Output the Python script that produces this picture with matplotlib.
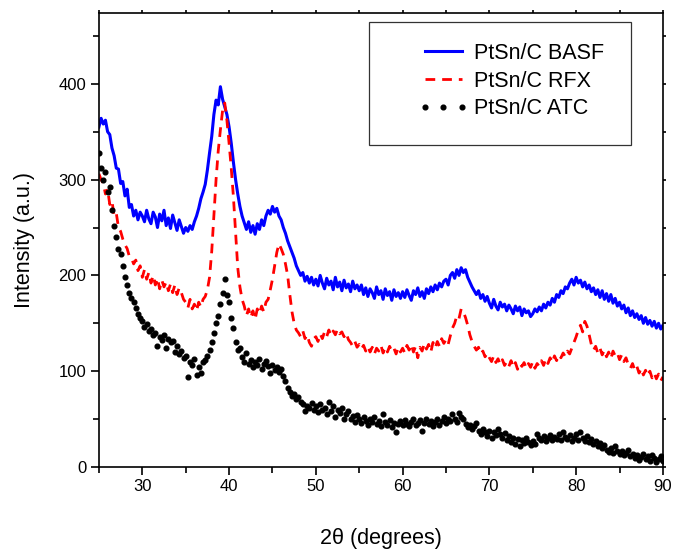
import numpy as np
import matplotlib
matplotlib.use("Agg")
import matplotlib.pyplot as plt
from matplotlib.patches import Rectangle

plt.rcParams['font.family'] = ['Liberation Sans', 'DejaVu Sans']

# 2theta grid, 0.25 degree steps from 25 to 90
theta = np.linspace(25, 90, 261)

# PtSn/C BASF (rows of 5 degrees)
basf = [
    355, 364, 358, 362, 350, 347, 333, 325, 312, 311, 296, 298, 283, 290, 271, 274, 262, 268, 258, 266,
    262, 256, 268, 259, 254, 266, 261, 250, 264, 257, 268, 252, 260, 249, 263, 255, 247, 258, 251, 244,
    250, 246, 252, 248, 256, 262, 270, 280, 287, 295, 310, 328, 345, 368, 383, 378, 397, 384, 376, 368,
    355, 338, 318, 300, 285, 272, 262, 255, 248, 256, 245, 252, 243, 254, 248, 258, 252, 262, 268, 264,
    272, 266, 270, 262, 258, 250, 244, 236, 230, 224, 218, 210, 205, 200, 203, 194, 199, 192, 198, 190,
    196, 189, 200, 192, 186, 197, 190, 194, 185, 198, 188, 193, 184, 195, 187, 191, 183, 194, 186, 190,
    184, 190, 180, 187, 178, 186, 182, 176, 188, 180, 184, 175, 186, 179, 183, 174, 185, 178, 182, 176,
    183, 177, 185, 179, 174, 184, 180, 187, 178, 183, 176, 186, 181, 188, 183, 190, 185, 192, 188, 194,
    196, 190, 200, 203, 197, 206, 200, 208, 203, 206, 198, 193, 188, 184, 180, 184, 176, 180, 173, 178,
    171, 166, 175, 168, 164, 172, 167, 170, 163, 169, 165, 160, 168, 163, 167, 158, 165, 161, 163, 157,
    160, 165, 162, 167, 163, 170, 166, 172, 169, 176, 172, 180, 177, 184, 181, 188, 186, 192, 196, 190,
    198, 192, 195, 188, 193, 186, 190, 183, 187, 180, 185, 177, 184, 175, 181, 173, 180, 171, 176, 168,
    172, 165, 169, 161, 166, 158, 163, 156, 160, 154, 158, 150, 156, 149, 153, 147, 152, 145, 150, 144,
    148,
]

# PtSn/C RFX
rfx = [
    306, 300, 296, 285, 290, 274, 278, 262, 265, 250, 246, 238, 232, 228, 220, 218, 212, 216, 205, 210,
    198, 206, 196, 203, 192, 200, 190, 197, 186, 195, 188, 193, 184, 191, 182, 190, 180, 187, 182, 175,
    172, 166, 175, 165, 170, 163, 172, 167, 175, 178, 185, 198, 225, 262, 300, 330, 352, 372, 380, 362,
    338, 312, 282, 245, 208, 188, 175, 168, 158, 165, 156, 163, 154, 165, 160, 168, 162, 172, 175, 185,
    196, 210, 224, 233, 228, 222, 212, 200, 180, 162, 150, 143, 140, 136, 142, 134, 138, 130, 126, 134,
    136, 131, 139, 134, 141, 136, 143, 137, 142, 138, 144, 139, 141, 136, 140, 133, 130, 126, 131, 125,
    128, 123, 127, 121, 126, 120, 125, 118, 124, 121, 127, 119, 125, 120, 126, 121, 124, 118, 125, 120,
    124, 119, 127, 122, 128, 120, 126, 114, 125, 121, 129, 123, 128, 120, 130, 124, 131, 126, 134, 129,
    133, 128, 137, 145, 150, 158, 155, 165, 162, 156, 148, 138, 131, 126, 122, 125, 118, 121, 115, 119,
    114, 110, 116, 109, 113, 107, 112, 106, 110, 105, 111, 104, 109, 102, 108, 105, 109, 103, 108, 104,
    110, 103, 108, 105, 111, 106, 113, 108, 114, 109, 116, 111, 117, 114, 119, 115, 121, 118, 124, 130,
    136, 143, 148, 141, 152, 147, 138, 128, 122, 126, 119, 124, 117, 122, 115, 120, 113, 121, 116, 119,
    112, 117, 110, 114, 107, 103, 108, 101, 105, 98, 103, 96, 101, 95, 100, 93, 98, 92, 97, 90,
    94,
]

# PtSn/C ATC
atc = [
    328, 312, 300, 308, 287, 292, 268, 252, 240, 228, 222, 210, 198, 190, 182, 176, 172, 166, 160, 156,
    152, 146, 149, 142, 144, 138, 140, 126, 136, 133, 138, 124, 134, 130, 132, 120, 126, 118, 121, 114,
    116, 94, 110, 106, 113, 96, 104, 98, 110, 112, 116, 122, 130, 140, 150, 158, 170, 182, 196, 180,
    172, 156, 145, 130, 122, 124, 115, 110, 119, 108, 112, 104, 110, 106, 113, 102, 108, 111, 105, 98,
    106, 101, 104, 99, 102, 95, 90, 82, 78, 74, 76, 71, 73, 68, 66, 58, 64, 62, 67, 60,
    64, 57, 66, 60, 62, 55, 68, 58, 64, 52, 60, 56, 62, 50, 55, 58, 50, 53, 47, 54,
    50, 46, 52, 48, 44, 50, 47, 52, 45, 48, 43, 55, 47, 44, 49, 42, 46, 36, 45, 48,
    44, 49, 45, 43, 47, 50, 44, 46, 49, 38, 46, 50, 45, 48, 43, 47, 50, 44, 48, 52,
    46, 50, 48, 55, 50, 47, 56, 52, 50, 45, 42, 44, 40, 43, 46, 38, 34, 40, 37, 32,
    38, 30, 36, 33, 40, 34, 30, 35, 28, 32, 26, 30, 24, 29, 22, 28, 25, 30, 26, 23,
    27, 24, 34, 30, 28, 32, 27, 30, 33, 28, 31, 29, 34, 28, 36, 31, 29, 33, 27, 30,
    34, 28, 36, 30, 27, 32, 26, 29, 24, 27, 22, 25, 20, 23, 18, 16, 20, 15, 22, 17,
    14, 17, 12, 15, 18, 11, 14, 9, 12, 7, 10, 14, 8, 11, 6, 12, 9, 5, 8, 11,
    6,
]

assert len(basf) == len(rfx) == len(atc) == len(theta)

fig = plt.figure(figsize=(6.73, 5.51), dpi=100)
ax = fig.add_axes([0.147, 0.1525, 0.838, 0.824])

l1, = ax.plot(theta, basf, color='#0000ff', lw=2.2, label='PtSn/C BASF')
l2, = ax.plot(theta, rfx, color='#ff0000', lw=2.0, dashes=(3.5, 2.5), label='PtSn/C RFX')
l3, = ax.plot(theta, atc, ls='none', marker='o', ms=3.4, color='k', label='PtSn/C ATC')

ax.set_xlim(25, 90)
ax.set_ylim(0, 474)
ax.set_xticks([30, 40, 50, 60, 70, 80, 90])
ax.set_xticks([25, 35, 45, 55, 65, 75, 85], minor=True)
ax.set_yticks([0, 100, 200, 300, 400])
ax.set_yticks([50, 150, 250, 350, 450], minor=True)
ax.tick_params(axis='both', which='major', direction='out', length=6, width=1.2,
               labelsize=12, pad=3)
ax.tick_params(axis='both', which='minor', direction='out', length=4, width=1.2)
ax.tick_params(which='both', top=True, right=True)
# tiny ticks on the top and right spines
for t in ax.xaxis.get_major_ticks() + ax.xaxis.get_minor_ticks():
    t.tick2line.set_markersize(2)
for t in ax.yaxis.get_major_ticks() + ax.yaxis.get_minor_ticks():
    t.tick2line.set_markersize(2)
for sp in ax.spines.values():
    sp.set_linewidth(1.2)

ax.set_xlabel('2θ (degrees)', fontsize=15.5, labelpad=24)
ax.set_ylabel('Intensity (a.u.)', fontsize=15.5, labelpad=17)

# legend frame drawn separately (box taller than the entries)
ax.add_patch(Rectangle((0.479, 0.709), 0.464, 0.271, transform=ax.transAxes,
                       fill=False, edgecolor='#333333', lw=0.9, zorder=5))
ax.legend(handles=[l1, l2, l3], loc='upper left', bbox_to_anchor=(0.567, 0.934),
          frameon=False, fontsize=15.5, handlelength=2.3, handletextpad=0.28,
          labelspacing=0.31, borderpad=0, borderaxespad=0, numpoints=3)

fig.savefig('out.png', dpi=100)
